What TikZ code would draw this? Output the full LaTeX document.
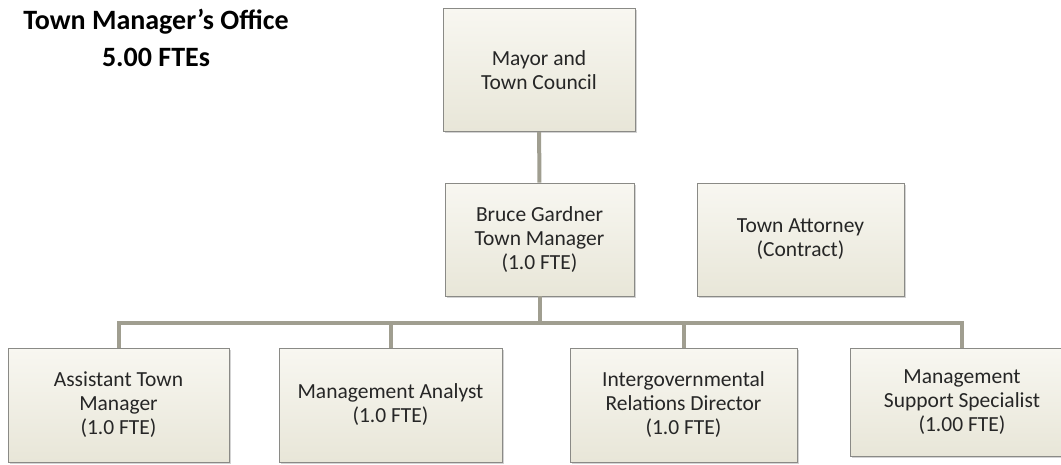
\documentclass[tikz,border=0pt]{standalone}
\usepackage{fontspec}
\setmainfont{Carlito}
\usetikzlibrary{shadows}

\definecolor{boxtop}{HTML}{F8F7F1}
\definecolor{boxbottom}{HTML}{E8E6D8}
\definecolor{boxline}{HTML}{8A8A86}
\definecolor{linkgray}{HTML}{A09E90}
\definecolor{txtgray}{HTML}{262626}

\begin{document}
\begin{tikzpicture}[
    x=1pt, y=-1pt,
    post/.style={rectangle, draw=boxline, line width=0.8pt,
        top color=boxtop, bottom color=boxbottom,
        drop shadow={shadow xshift=1.5pt, shadow yshift=-1.5pt, opacity=0.35},
        align=center, text=txtgray, inner sep=2pt,
        font=\fontsize{21.5}{24}\selectfont},
    link/.style={linkgray, line width=4pt}
]
    \useasboundingbox (0,0) rectangle (1061,464);
    \node[font=\bfseries\fontsize{28}{37}\selectfont, align=center, inner sep=0pt]
        (title) at (156,38) {Town Manager’s Office\\5.00 FTEs};

    \node[post, minimum width=192pt, minimum height=123pt] (council) at (539,70) {Mayor and\\Town Council};
    \node[post, minimum width=189pt, minimum height=113pt] (manager) at (539.5,239.5) {Bruce Gardner\\Town Manager\\(1.0 FTE)};
    \node[post, minimum width=207pt, minimum height=113pt] (attorney) at (800.5,239.5) {Town Attorney\\(Contract)};

    \node[post, minimum width=221pt, minimum height=114pt] (asst) at (118.5,405) {Assistant Town\\Manager\\(1.0 FTE)};
    \node[post, minimum width=223pt, minimum height=114pt] (analyst) at (390.5,405) {Management Analyst\\(1.0 FTE)};
    \node[post, minimum width=227pt, minimum height=114pt] (igr) at (683.5,405) {Intergovernmental\\Relations Director\\(1.0 FTE)};
    \node[post, minimum width=224pt, minimum height=108pt] (support) at (962,402) {Management\\Support Specialist\\(1.00 FTE)};

    \coordinate (bus) at (539.5,323);

    \draw[link] (council) -- (manager);
    \draw[link] (manager) -- (bus);
    \foreach \n in {asst,analyst,igr,support}
        \draw[link] (bus) -| (\n.north);
\end{tikzpicture}
\end{document}
